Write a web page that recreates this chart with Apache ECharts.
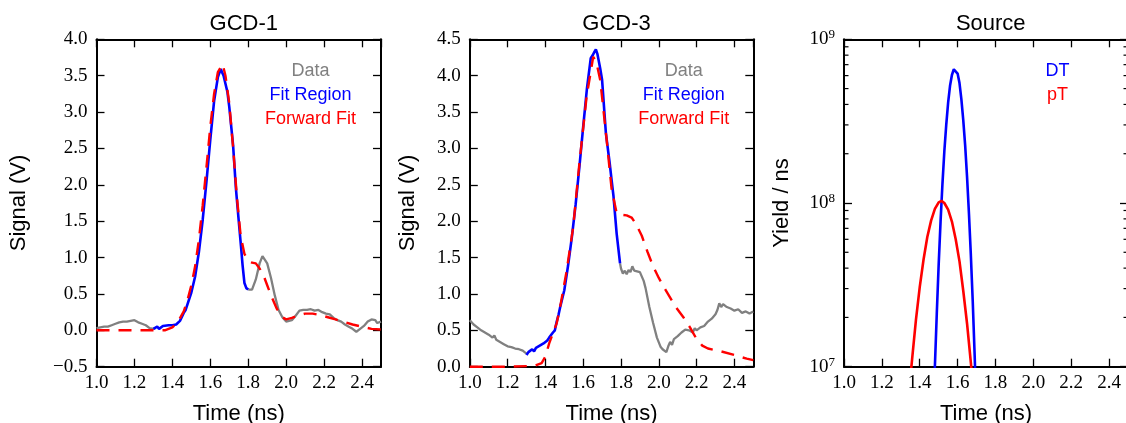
<!DOCTYPE html>
<html>
<head>
<meta charset="utf-8">
<script src="https://cdn.jsdelivr.net/npm/echarts@6/dist/echarts.min.js"></script>
<style>
html,body{margin:0;padding:0;background:#fff;}
#chart{width:1126px;height:423px;}
</style>
</head>
<body>
<div id="chart"></div>
<script>
// ---------- DATA ----------
const panelTitles = ['GCD-1', 'GCD-3', 'Source'];
const xTitle = 'Time (ns)';
const yTitles = ['Signal (V)', 'Signal (V)', 'Yield / ns'];
const legendLabels = ['Data', 'Fit Region', 'Forward Fit'];
const sourceLabels = ['DT', 'pT'];

// GCD-1
const gcd1DataLeft = [[1.00,0.03],[1.02,0.04],[1.04,0.05],[1.06,0.05],[1.08,0.07],[1.10,0.09],[1.12,0.11],[1.14,0.12],[1.16,0.12],[1.18,0.13],[1.20,0.14],[1.22,0.11],[1.24,0.09],[1.26,0.07],[1.28,0.03],[1.30,0.02],[1.31,0.03]];
const gcd1DataRight = [[1.80,0.56],[1.81,0.54],[1.82,0.56],[1.84,0.70],[1.86,0.92],[1.875,1.02],[1.885,1.03],[1.90,0.92],[1.92,0.72],[1.94,0.48],[1.96,0.28],[1.98,0.18],[2.00,0.12],[2.01,0.10],[2.03,0.14],[2.05,0.20],[2.07,0.27],[2.09,0.28],[2.11,0.28],[2.13,0.29],[2.15,0.27],[2.17,0.28],[2.19,0.25],[2.21,0.23],[2.23,0.22],[2.25,0.17],[2.27,0.14],[2.29,0.12],[2.31,0.08],[2.33,0.05],[2.35,0.02],[2.37,-0.02],[2.39,0.02],[2.41,0.06],[2.43,0.12],[2.45,0.15],[2.47,0.14],[2.48,0.10],[2.50,0.12]];
const gcd1Fit = [[1.30,0.02],[1.32,0.05],[1.33,0.02],[1.35,0.06],[1.38,0.07],[1.40,0.07],[1.42,0.08],[1.44,0.13],[1.46,0.24],[1.47,0.28],[1.48,0.36],[1.50,0.52],[1.52,0.74],[1.54,1.08],[1.56,1.52],[1.58,2.05],[1.60,2.62],[1.62,3.15],[1.64,3.48],[1.655,3.59],[1.67,3.50],[1.69,3.28],[1.70,3.07],[1.72,2.55],[1.735,1.95],[1.75,1.50],[1.762,1.15],[1.77,0.90],[1.78,0.65],[1.79,0.58],[1.80,0.56]];
const gcd1Forward = [[1.00,0.00],[1.10,0.00],[1.20,0.00],[1.30,0.00],[1.36,0.00],[1.40,0.04],[1.43,0.12],[1.46,0.26],[1.48,0.42],[1.50,0.62],[1.52,0.88],[1.54,1.25],[1.56,1.72],[1.58,2.25],[1.60,2.80],[1.62,3.25],[1.64,3.55],[1.665,3.66],[1.68,3.50],[1.70,3.12],[1.72,2.52],[1.74,1.84],[1.76,1.30],[1.78,1.05],[1.80,0.96],[1.82,0.93],[1.84,0.92],[1.86,0.85],[1.88,0.76],[1.90,0.62],[1.92,0.48],[1.95,0.30],[1.98,0.18],[2.00,0.15],[2.03,0.17],[2.06,0.20],[2.10,0.23],[2.14,0.23],[2.18,0.21],[2.22,0.18],[2.26,0.15],[2.30,0.12],[2.35,0.08],[2.40,0.05],[2.45,0.02],[2.50,0.01]];

// GCD-3
const gcd3DataLeft = [[1.00,0.64],[1.01,0.62],[1.02,0.58],[1.04,0.54],[1.06,0.50],[1.08,0.47],[1.10,0.44],[1.12,0.40],[1.13,0.43],[1.14,0.37],[1.16,0.34],[1.18,0.31],[1.20,0.28],[1.22,0.27],[1.24,0.25],[1.26,0.24],[1.27,0.26],[1.28,0.22],[1.30,0.18]];
const gcd3DataRight = [[1.795,1.42],[1.80,1.35],[1.81,1.28],[1.82,1.32],[1.83,1.27],[1.84,1.33],[1.85,1.30],[1.86,1.38],[1.87,1.32],[1.88,1.33],[1.90,1.30],[1.92,1.18],[1.93,1.08],[1.95,0.82],[1.97,0.60],[1.99,0.40],[2.01,0.27],[2.02,0.24],[2.03,0.22],[2.04,0.20],[2.05,0.28],[2.06,0.34],[2.07,0.30],[2.08,0.38],[2.10,0.42],[2.12,0.47],[2.14,0.51],[2.16,0.50],[2.18,0.47],[2.19,0.53],[2.20,0.50],[2.22,0.54],[2.24,0.56],[2.26,0.62],[2.28,0.66],[2.30,0.72],[2.31,0.78],[2.32,0.87],[2.33,0.82],[2.34,0.86],[2.36,0.82],[2.38,0.80],[2.40,0.77],[2.42,0.79],[2.44,0.74],[2.46,0.76],[2.48,0.73],[2.50,0.76]];
const gcd3Fit = [[1.30,0.16],[1.31,0.20],[1.32,0.18],[1.33,0.24],[1.34,0.21],[1.35,0.26],[1.36,0.24],[1.37,0.29],[1.38,0.27],[1.39,0.32],[1.40,0.30],[1.41,0.36],[1.42,0.40],[1.43,0.38],[1.44,0.47],[1.45,0.50],[1.46,0.62],[1.47,0.72],[1.48,0.84],[1.50,1.05],[1.52,1.39],[1.54,1.78],[1.56,2.23],[1.58,2.75],[1.60,3.30],[1.62,3.83],[1.64,4.24],[1.65,4.28],[1.66,4.33],[1.667,4.36],[1.675,4.30],[1.69,4.10],[1.70,3.94],[1.72,3.21],[1.74,2.80],[1.75,2.57],[1.76,2.35],[1.777,1.83],[1.795,1.42]];
const gcd3Forward = [[1.00,0.00],[1.20,0.00],[1.34,0.01],[1.38,0.05],[1.40,0.14],[1.42,0.32],[1.46,0.60],[1.48,0.85],[1.51,1.28],[1.547,1.92],[1.58,2.80],[1.618,3.71],[1.653,4.26],[1.67,4.18],[1.69,3.94],[1.724,3.12],[1.75,2.45],[1.777,2.11],[1.80,2.09],[1.83,2.08],[1.856,2.05],[1.88,1.96],[1.91,1.80],[1.94,1.58],[1.97,1.38],[2.00,1.22],[2.03,1.08],[2.06,0.95],[2.09,0.82],[2.13,0.68],[2.165,0.54],[2.20,0.38],[2.23,0.29],[2.26,0.25],[2.33,0.21],[2.40,0.16],[2.465,0.11],[2.50,0.09]];

// Source (yield / ns)
const sourceDT = [[1.475,6.7e6],[1.48,1.0e7],[1.49,2.1e7],[1.50,4.2e7],[1.51,7.7e7],[1.52,1.31e8],[1.53,2.07e8],[1.54,3.0e8],[1.55,4.1e8],[1.56,5.2e8],[1.57,6.05e8],[1.58,6.56e8],[1.586,6.65e8],[1.59,6.6e8],[1.60,6.18e8],[1.61,5.4e8],[1.62,4.3e8],[1.63,3.2e8],[1.64,2.24e8],[1.65,1.44e8],[1.66,8.6e7],[1.67,4.8e7],[1.68,2.5e7],[1.69,1.18e7],[1.695,7.9e6]];
const sourcePT = [[1.35,8.5e6],[1.356,1.0e7],[1.36,1.12e7],[1.38,1.93e7],[1.40,3.06e7],[1.42,4.5e7],[1.44,6.2e7],[1.46,7.8e7],[1.48,9.2e7],[1.50,1.01e8],[1.515,1.03e8],[1.53,1.0e8],[1.55,9.1e7],[1.57,7.7e7],[1.59,6.0e7],[1.61,4.4e7],[1.63,2.9e7],[1.65,1.83e7],[1.67,1.06e7],[1.675,9.2e6]];

// axis ticks
const xRange = [1.0, 2.5];
const xStep = 0.2;
const gcd1YRange = [-0.5, 4.0];
const gcd3YRange = [0.0, 4.5];
const yStep = 0.5;
const logRange = [1e7, 1e9];
const logMinorTicks = [2e7,3e7,4e7,5e7,6e7,7e7,8e7,9e7,2e8,3e8,4e8,5e8,6e8,7e8,8e8,9e8];

// ---------- STYLE ----------
const SERIF = '"Liberation Serif", "DejaVu Serif", serif';
const SANS = '"Liberation Sans", Arial, sans-serif';
const GRAY = '#808080', BLUE = '#0000ff', RED = '#ff0000';

const grids = [
  {left: 96.5, top: 39.3, width: 284.5, height: 327.4},
  {left: 469.8, top: 39.3, width: 283.5, height: 327.4},
  {left: 844, top: 39.3, width: 284, height: 327.4}
];
const nameGaps = [67, 51, 51];

function fmtNum(v) {
  return v.toFixed(1).replace('-', '\u2212');
}

const axisLineStyle = {show: true, onZero: false, lineStyle: {color: '#000', width: 2}};
const tickStyle = {show: true, inside: true, length: 8, lineStyle: {color: '#000', width: 1.3}};

const xAxes = [], yAxes = [];
grids.forEach((g, i) => {
  xAxes.push({
    type: 'value', gridIndex: i, position: 'bottom',
    min: xRange[0], max: xRange[1], interval: xStep,
    axisLine: axisLineStyle, axisTick: tickStyle, splitLine: {show: false},
    axisLabel: {show: true, formatter: fmtNum, showMaxLabel: false, margin: 7,
      fontFamily: SERIF, fontSize: 19, color: '#000'},
    name: xTitle, nameLocation: 'middle', nameGap: 36,
    nameTextStyle: {fontFamily: SANS, fontSize: 22, color: '#000'}
  });
  xAxes.push({
    type: 'value', gridIndex: i, position: 'top',
    min: xRange[0], max: xRange[1], interval: xStep,
    axisLine: axisLineStyle, axisTick: tickStyle, splitLine: {show: false},
    axisLabel: {show: false}
  });
  const isLog = i === 2;
  const yr = i === 0 ? gcd1YRange : gcd3YRange;
  const base = isLog ? {type: 'log', logBase: 10, min: logRange[0], max: logRange[1]}
                     : {type: 'value', min: yr[0], max: yr[1], interval: yStep};
  yAxes.push(Object.assign({}, base, {
    gridIndex: i, position: 'left',
    axisLine: axisLineStyle, axisTick: tickStyle, splitLine: {show: false},
    axisLabel: isLog ? {
      show: true, margin: 9,
      formatter: v => '{b|10}{e|' + Math.round(Math.log10(v)) + '}',
      rich: {
        b: {fontFamily: SERIF, fontSize: 19, color: '#000'},
        e: {fontFamily: SERIF, fontSize: 13, color: '#000', verticalAlign: 'top', padding: [0, 0, 9, 0]}
      }
    } : {show: true, formatter: fmtNum, margin: 9, fontFamily: SERIF, fontSize: 19, color: '#000'},
    name: yTitles[i], nameLocation: 'middle', nameGap: nameGaps[i], nameRotate: 90,
    nameTextStyle: {fontFamily: SANS, fontSize: 22, color: '#000'}
  }));
  yAxes.push(Object.assign({}, base, {
    gridIndex: i, position: 'right',
    axisLine: axisLineStyle, axisTick: tickStyle, splitLine: {show: false},
    axisLabel: {show: false}
  }));
});

function lineSeries(name, data, gi, color, width, dashed, z) {
  return {
    type: 'line', name: name, data: data,
    xAxisIndex: gi * 2, yAxisIndex: gi * 2,
    showSymbol: false, symbol: 'none', smooth: false, clip: true,
    lineStyle: {color: color, width: width, type: dashed ? [13, 9] : 'solid'},
    itemStyle: {color: color}, z: z, silent: true
  };
}

const series = [
  lineSeries(legendLabels[0], gcd1DataLeft, 0, GRAY, 2.3, false, 2),
  lineSeries(legendLabels[0], gcd1DataRight, 0, GRAY, 2.3, false, 2),
  lineSeries(legendLabels[1], gcd1Fit, 0, BLUE, 2.6, false, 3),
  lineSeries(legendLabels[2], gcd1Forward, 0, RED, 2.4, true, 4),
  lineSeries(legendLabels[0], gcd3DataLeft, 1, GRAY, 2.3, false, 2),
  lineSeries(legendLabels[0], gcd3DataRight, 1, GRAY, 2.3, false, 2),
  lineSeries(legendLabels[1], gcd3Fit, 1, BLUE, 2.6, false, 3),
  lineSeries(legendLabels[2], gcd3Forward, 1, RED, 2.4, true, 4),
  lineSeries(sourceLabels[0], sourceDT, 2, BLUE, 2.6, false, 3),
  lineSeries(sourceLabels[1], sourcePT, 2, RED, 2.6, false, 3),
  {
    type: 'custom', xAxisIndex: 4, yAxisIndex: 4, silent: true, clip: false, z: 5,
    data: logMinorTicks.map(v => [v]),
    dimensions: ['v'], encode: {y: 0},
    renderItem: function (params, api) {
      const cs = params.coordSys;
      const y = api.coord([xRange[0], api.value(0)])[1];
      const st = {stroke: '#000', lineWidth: 1.2};
      return {type: 'group', children: [
        {type: 'line', shape: {x1: cs.x, y1: y, x2: cs.x + 4.5, y2: y}, style: st},
        {type: 'line', shape: {x1: cs.x + cs.width, y1: y, x2: cs.x + cs.width - 4.5, y2: y}, style: st}
      ]};
    }
  }
];

const titles = grids.map((g, i) => ({
  text: panelTitles[i], left: g.left + g.width / 2, top: 8, textAlign: 'center',
  textStyle: {fontFamily: SANS, fontSize: 22, fontWeight: 'normal', color: '#000'}
}));
titles[2].left = grids[2].left + 141.75;

function legendText(text, x, y, color) {
  return {type: 'text', x: x, y: y, z: 100, silent: true,
    style: {text: text, fill: color, font: '18px ' + SANS, align: 'center', verticalAlign: 'middle',
      textAlign: 'center', textVerticalAlign: 'middle'}};
}
const legendColors = [GRAY, BLUE, RED];
const legendYs = [71, 95, 119.5];
const graphics = [];
[310.5, 683.8].forEach(cx => {
  legendLabels.forEach((t, k) => graphics.push(legendText(t, cx, legendYs[k], legendColors[k])));
});
graphics.push(legendText(sourceLabels[0], 1057.5, 71, BLUE));
graphics.push(legendText(sourceLabels[1], 1057.5, 95, RED));

const chart = echarts.init(document.getElementById('chart'), null, {renderer: 'canvas'});
chart.setOption({
  animation: false,
  backgroundColor: '#fff',
  title: titles,
  grid: grids.map(g => Object.assign({containLabel: false, outerBoundsMode: 'none'}, g)),
  xAxis: xAxes,
  yAxis: yAxes,
  series: series,
  graphic: graphics
});
</script>
</body>
</html>
